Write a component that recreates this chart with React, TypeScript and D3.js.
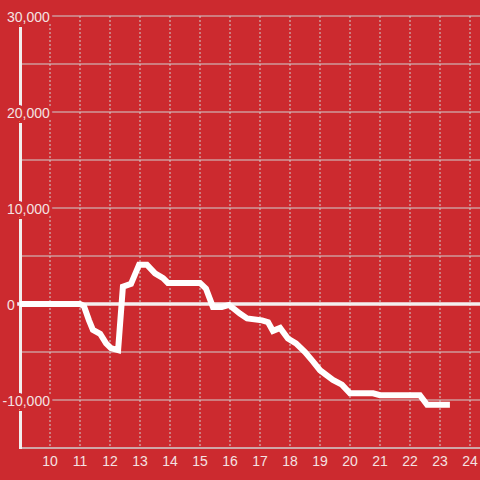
import React from "react";
import * as d3 from "d3";

const hours = [9, 11, 11.13, 11.3, 11.43, 11.67, 11.87, 12.03, 12.27, 12.43, 12.7, 12.97, 13.23, 13.5, 13.77, 13.93, 15, 15.2, 15.43, 15.73, 15.97, 16.33, 16.57, 17.07, 17.27, 17.43, 17.67, 17.93, 18.2, 18.5, 18.77, 19, 19.43, 19.73, 20, 20.77, 21, 22.33, 22.57, 23.33];
const values = [0, 0, -200, -1700, -2700, -3100, -4100, -4600, -4800, 1800, 2100, 4100, 4100, 3200, 2700, 2200, 2200, 1600, -300, -300, -100, -1000, -1500, -1700, -1900, -2800, -2500, -3600, -4100, -5000, -6000, -6900, -7900, -8400, -9300, -9300, -9500, -9500, -10500, -10500];
const xTicks = [10, 11, 12, 13, 14, 15, 16, 17, 18, 19, 20, 21, 22, 23, 24];
const yGrid = [-10000, -5000, 5000, 10000, 15000, 20000, 25000, 30000];
const yLabels = [30000, 20000, 10000, 0, -10000];

const W = 480;
const H = 480;
const BG = "#cc2a2f";
const GRID = "#d0d0d0";
const TEXT = "#f4e2e2";
const FONT = "'Liberation Sans', Arial, sans-serif";

export default function App() {
  const x = d3.scaleLinear().domain([9, 24.3333]).range([20, 480]);
  const y = d3.scaleLinear().domain([-15000, 30000]).range([448, 16]);
  const data = hours.map((h, i) => [h, values[i]] as [number, number]);
  const line = d3
    .line<[number, number]>()
    .x((d) => x(d[0]))
    .y((d) => y(d[1]));
  const fmt = d3.format(",");
  return (
    <svg
      width={W}
      height={H}
      style={{ position: "absolute", left: 0, top: 0, display: "block" }}
    >
      <rect x={0} y={0} width={W} height={H} fill={BG} />
      {yGrid.map((v) => (
        <line key={"g" + v} x1={20} x2={W} y1={y(v)} y2={y(v)} stroke={GRID} strokeWidth={1} />
      ))}
      {xTicks.map((t) => (
        <line
          key={"v" + t}
          x1={x(t)}
          x2={x(t)}
          y1={y(30000)}
          y2={y(-15000)}
          stroke={GRID}
          strokeWidth={1}
          strokeDasharray="2,2"
        />
      ))}
      <line x1={20} x2={W} y1={y(-15000)} y2={y(-15000)} stroke={GRID} strokeWidth={1.5} />
      <line x1={20.5} x2={20.5} y1={y(30000)} y2={y(-15000) + 1} stroke="#f2eeee" strokeWidth={3} />
      <line x1={17} x2={W} y1={y(0)} y2={y(0)} stroke="#f4f0f0" strokeWidth={3.5} />
      {yLabels.map((v) => (
        <text
          key={"l" + v}
          x={v < 0 ? 2.5 : 7}
          y={y(v) + 5.5}
          fontFamily={FONT}
          fontSize={14}
          fill={TEXT}
          stroke={BG}
          strokeWidth={6}
          paintOrder="stroke"
          textAnchor="start"
        >
          {fmt(v).replace("−", "-")}
        </text>
      ))}
      {xTicks.map((t) => (
        <text
          key={"x" + t}
          x={x(t)}
          y={466}
          fontFamily={FONT}
          fontSize={14}
          fill={TEXT}
          textAnchor="middle"
        >
          {t}
        </text>
      ))}
      <path
        d={line(data) || ""}
        fill="none"
        stroke="#ffffff"
        strokeWidth={6}
        strokeLinejoin="miter"
        strokeMiterlimit={3}
        strokeLinecap="butt"
      />
    </svg>
  );
}
